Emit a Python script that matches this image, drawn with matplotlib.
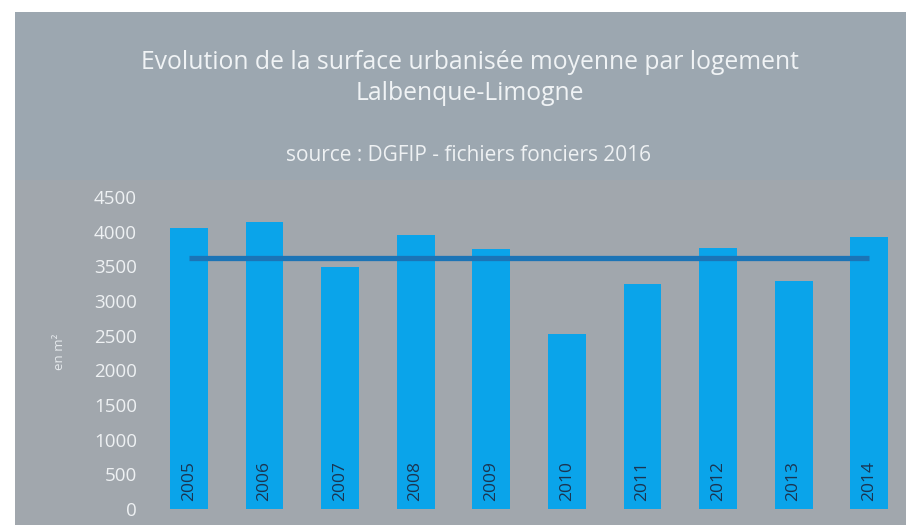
import matplotlib
matplotlib.use('Agg')
from matplotlib import pyplot as plt
from matplotlib.patches import Rectangle

# donnees (m2 par logement)
annees = ['2005', '2006', '2007', '2008', '2009', '2010', '2011', '2012', '2013', '2014']
surface = [4050, 4140, 3490, 3950, 3750, 2530, 3240, 3770, 3290, 3920]
moyenne = 3613
yticks = [0, 500, 1000, 1500, 2000, 2500, 3000, 3500, 4000, 4500]

titre = 'Evolution de la surface urbanisée moyenne par logement\nLalbenque-Limogne'
source = 'source : DGFIP - fichiers fonciers 2016'

plt.rcParams['font.family'] = ['Open Sans', 'DejaVu Sans']

fig = plt.figure(figsize=(9.06, 5.25), dpi=100)
fig.patch.set_facecolor('white')

# fond gris de la photo
fig.patches.append(Rectangle((15 / 906, 0), 1, 1 - 12 / 525, transform=fig.transFigure,
                             facecolor='#a1a7ad', edgecolor='none', zorder=-2))
fig.patches.append(Rectangle((15 / 906, 1 - 180 / 525), 1, 168 / 525, transform=fig.transFigure,
                             facecolor='#9ba7b1', edgecolor='none', zorder=-1, alpha=0.8))

ax = fig.add_axes([151 / 906, 16 / 525, 756 / 906, 312 / 525])
ax.set_facecolor('none')

x = list(range(len(annees)))
ax.bar(x, surface, width=0.5, color='#0aa4ea', zorder=2)
ax.plot([x[0], x[-1]], [moyenne, moyenne], color='#1b74b6', linewidth=3.8,
        solid_capstyle='butt', zorder=3)

for i, a in enumerate(annees):
    ax.text(i, 404, a, rotation=90, ha='center', va='center', fontsize=12.5,
            color='#1b3552', zorder=4)

ax.set_xlim(-0.5, 9.5)
ax.set_ylim(0, 4500)
ax.set_yticks(yticks)
ax.set_yticklabels([str(v) for v in yticks], color='#eef1f3', fontsize=13.5)
ax.set_xticks([])
ax.tick_params(axis='y', length=0, pad=10)
for s in ax.spines.values():
    s.set_visible(False)

ax.set_ylabel('en m²', color='#e6eaed', fontsize=9.5)
ax.yaxis.set_label_coords(-0.113, 0.503)

fig.text(470 / 906, 1 - 78 / 525, titre, ha='center', va='center', fontsize=17.8,
         color='#f0f3f5', linespacing=1.35)
fig.text(468 / 906, 1 - 155 / 525, source, ha='center', va='center', fontsize=15,
         color='#eef1f3')

plt.savefig('out.png', dpi=100, facecolor=fig.get_facecolor())
